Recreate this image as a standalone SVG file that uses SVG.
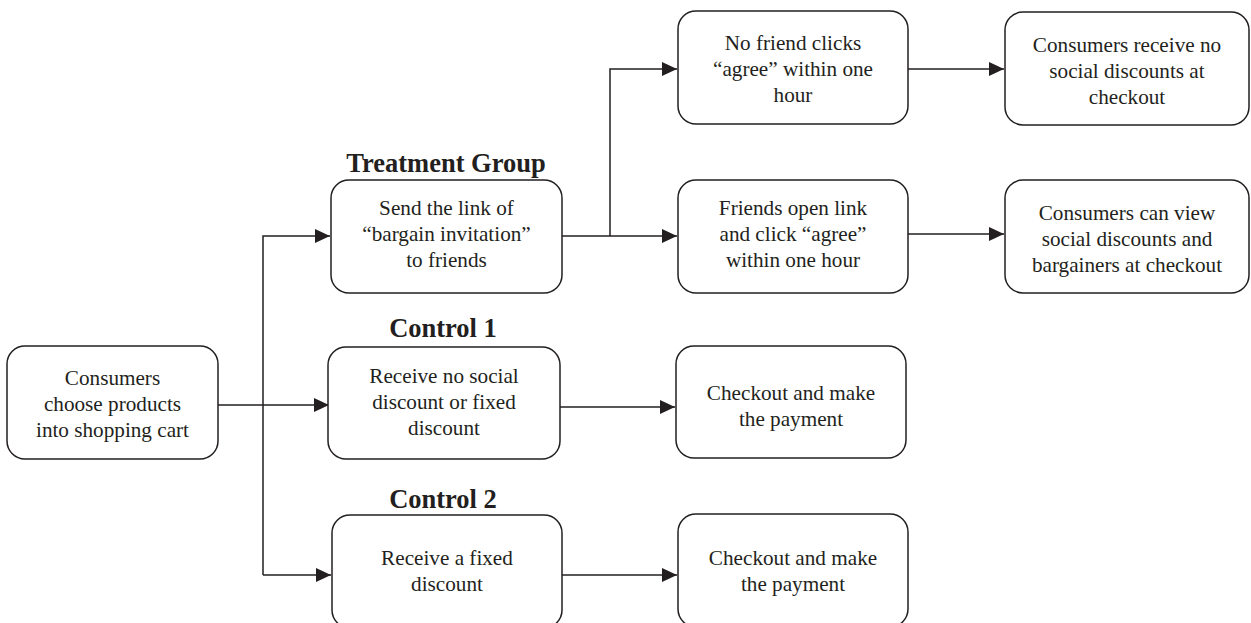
<svg xmlns="http://www.w3.org/2000/svg" width="1251" height="623" viewBox="0 0 1251 623">
<style>
.box{fill:#fff;stroke:#231f20;stroke-width:1.5}
.t{font-family:"Liberation Serif","Times New Roman",serif;font-size:21.2px;fill:#231f20;text-anchor:middle}
.h{font-family:"Liberation Serif","Times New Roman",serif;font-size:26.5px;font-weight:bold;fill:#231f20;text-anchor:middle}
.c{fill:none;stroke:#231f20;stroke-width:1.5}
</style>
<defs>
<marker id="ah" markerWidth="16" markerHeight="14" refX="15" refY="7" orient="auto" markerUnits="userSpaceOnUse">
<path d="M0,0 L15,7 L0,14 Z" fill="#231f20"/>
</marker>
</defs>
<rect width="1251" height="623" fill="#fff"/>
<g id="connectors">
<path class="c" d="M218,405 H329" marker-end="url(#ah)"/>
<path class="c" d="M263,575 V236 H330" marker-end="url(#ah)"/>
<path class="c" d="M263,575 H331" marker-end="url(#ah)"/>
<path class="c" d="M562,236 H677" marker-end="url(#ah)"/>
<path class="c" d="M610,236 V69 H677" marker-end="url(#ah)"/>
<path class="c" d="M908,69 H1004" marker-end="url(#ah)"/>
<path class="c" d="M908,234 H1004" marker-end="url(#ah)"/>
<path class="c" d="M560,407 H675" marker-end="url(#ah)"/>
<path class="c" d="M562,575 H677" marker-end="url(#ah)"/>
</g>
<g id="start">
<rect class="box" x="7" y="346" width="211" height="113" rx="18"/>
<text class="t" x="112.5" y="385">Consumers</text>
<text class="t" x="112.5" y="411">choose products</text>
<text class="t" x="112.5" y="437">into shopping cart</text>
</g>
<g id="treatment">
<text class="h" x="446" y="172">Treatment Group</text>
<rect class="box" x="331" y="180" width="231" height="113" rx="18"/>
<text class="t" x="446.5" y="215">Send the link of</text>
<text class="t" x="446.5" y="241">“bargain invitation”</text>
<text class="t" x="446.5" y="267">to friends</text>
</g>
<g id="nofriend">
<rect class="box" x="678" y="11" width="230" height="113" rx="18"/>
<text class="t" x="793" y="50">No friend clicks</text>
<text class="t" x="793" y="76">“agree” within one</text>
<text class="t" x="793" y="102">hour</text>
</g>
<g id="friends">
<rect class="box" x="678" y="180" width="230" height="113" rx="18"/>
<text class="t" x="793" y="215">Friends open link</text>
<text class="t" x="793" y="241">and click “agree”</text>
<text class="t" x="793" y="267">within one hour</text>
</g>
<g id="nodiscount">
<rect class="box" x="1005" y="12" width="244" height="113" rx="18"/>
<text class="t" x="1127" y="52">Consumers receive no</text>
<text class="t" x="1127" y="78">social discounts at</text>
<text class="t" x="1127" y="104">checkout</text>
</g>
<g id="viewdiscount">
<rect class="box" x="1005" y="180" width="244" height="113" rx="18"/>
<text class="t" x="1127" y="220">Consumers can view</text>
<text class="t" x="1127" y="246">social discounts and</text>
<text class="t" x="1127" y="272">bargainers at checkout</text>
</g>
<g id="control1">
<text class="h" x="443" y="337">Control 1</text>
<rect class="box" x="328" y="347" width="232" height="112" rx="18"/>
<text class="t" x="444" y="383">Receive no social</text>
<text class="t" x="444" y="409">discount or fixed</text>
<text class="t" x="444" y="435">discount</text>
</g>
<g id="checkout1">
<rect class="box" x="676" y="346" width="230" height="112" rx="18"/>
<text class="t" x="791" y="400">Checkout and make</text>
<text class="t" x="791" y="426">the payment</text>
</g>
<g id="control2">
<text class="h" x="443" y="508">Control 2</text>
<rect class="box" x="332" y="515" width="230" height="113" rx="18"/>
<text class="t" x="447" y="565">Receive a fixed</text>
<text class="t" x="447" y="591">discount</text>
</g>
<g id="checkout2">
<rect class="box" x="678" y="514" width="230" height="113" rx="18"/>
<text class="t" x="793" y="565">Checkout and make</text>
<text class="t" x="793" y="591">the payment</text>
</g>
</svg>
